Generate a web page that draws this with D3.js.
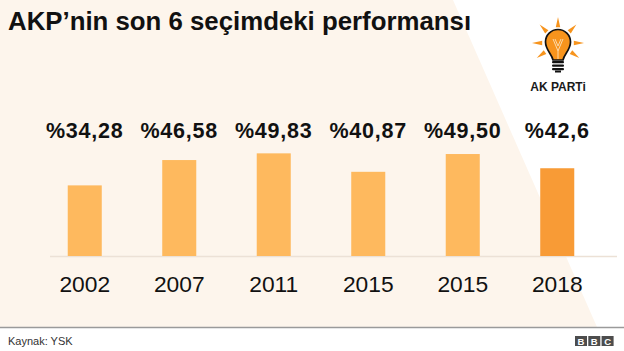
<!DOCTYPE html>
<html>
<head>
<meta charset="utf-8">
<script src="https://cdn.jsdelivr.net/npm/d3@7"></script>
<style>
  html, body { margin: 0; padding: 0; background: #fff; }
  svg { display: block; }
  text { font-family: "Liberation Sans", Arial, Helvetica, sans-serif; }
</style>
</head>
<body>
<svg id="chart" width="624" height="351"></svg>
<script>
// ---- data ----
const years = ["2002", "2007", "2011", "2015", "2015", "2018"];
const values = [34.28, 46.58, 49.83, 40.87, 49.50, 42.6];
const valueLabels = ["%34,28", "%46,58", "%49,83", "%40,87", "%49,50", "%42,6"];
const highlight = [false, false, false, false, false, true];
const title = "AKP\u2019nin son 6 seçimdeki performansı";
const source = "Kaynak: YSK";

const W = 624, H = 351;
const svg = d3.select("#chart");

// background: cream with diagonal white area on right
svg.append("rect").attr("x", 0).attr("y", 0).attr("width", W).attr("height", H).attr("fill", "#fff");
svg.append("path")
  .attr("d", "M0,0 L453,0 L597,327 L0,327 Z")
  .attr("fill", "#FDF5EC");

// footer separator
svg.append("line").attr("x1", 0).attr("x2", W).attr("y1", 327.5).attr("y2", 327.5)
  .attr("stroke", "#9a9a9a").attr("stroke-width", 1.5);

// title
svg.append("text").attr("x", 8).attr("y", 29.5)
  .attr("font-size", 25.8).attr("font-weight", "bold").attr("fill", "#111")
  .text(title);

// scales
const idx = d3.range(values.length);
const x = d3.scaleBand().domain(idx).range([37.5, 604.5]).paddingInner(0.64).paddingOuter(0.32);
const y = d3.scaleLinear().domain([0, 50]).range([256, 153]);

// baseline
svg.append("line").attr("x1", 50).attr("x2", 617).attr("y1", y(0) + 0.5).attr("y2", y(0) + 0.5)
  .attr("stroke", "#ECE1D6").attr("stroke-width", 1.5);

// bars
svg.append("g").selectAll("rect").data(idx).join("rect")
  .attr("x", i => x(i))
  .attr("width", x.bandwidth())
  .attr("y", i => y(values[i]))
  .attr("height", i => y(0) - y(values[i]))
  .attr("fill", i => highlight[i] ? "#F89B36" : "#FEB95E");

// value labels
svg.append("g").selectAll("text").data(idx).join("text")
  .attr("x", i => x(i) + x.bandwidth() / 2)
  .attr("y", 137.5)
  .attr("text-anchor", "middle")
  .attr("font-size", 21.5).attr("font-weight", "bold").attr("letter-spacing", 0.8)
  .attr("fill", "#111")
  .text(i => valueLabels[i]);

// x axis (year labels)
const xAxis = svg.append("g").attr("transform", `translate(0,${y(0)})`)
  .call(d3.axisBottom(x).tickFormat(i => years[i]).tickSize(0).tickPadding(0));
xAxis.select(".domain").remove();
xAxis.selectAll("text")
  .attr("dy", null).attr("y", 36)
  .attr("font-size", 22.8).attr("fill", "#111")
  .style("font-family", "'Liberation Sans', Arial, Helvetica, sans-serif");

// source
svg.append("text").attr("x", 8).attr("y", 345)
  .attr("font-size", 11).attr("fill", "#333").text(source);

// BBC logo
const bbc = svg.append("g").attr("transform", "translate(575,336)");
["B", "B", "C"].forEach((ch, k) => {
  bbc.append("rect").attr("x", k * 13.3).attr("y", 0).attr("width", 12).attr("height", 10)
    .attr("fill", "#4d4d4d");
  bbc.append("text").attr("x", k * 13.3 + 6).attr("y", 8.6).attr("text-anchor", "middle")
    .attr("font-size", 9.5).attr("font-weight", "bold").attr("fill", "#fff").text(ch);
});

// AK Parti logo
const logo = svg.append("g").attr("transform", "translate(558,43)");
const rayAngles = [-90, -135, -45, 180, 0, 145, 35];
rayAngles.forEach(a => {
  const r = a * Math.PI / 180;
  const r1 = 16, r2 = 26, hw = 0.14;
  const p = [
    [Math.cos(r - hw) * r1, Math.sin(r - hw) * r1],
    [Math.cos(r) * r2, Math.sin(r) * r2],
    [Math.cos(r + hw) * r1, Math.sin(r + hw) * r1]
  ];
  logo.append("path").attr("d", "M" + p.map(q => q.join(",")).join("L") + "Z").attr("fill", "#F7941D");
});
// bulb
logo.append("path")
  .attr("d", "M-5,17 C-6,11 -12.5,7 -12.5,-1 A12.5,12.5 0 1 1 12.5,-1 C12.5,7 6,11 5,17 Z")
  .attr("fill", "#F7941D").attr("stroke", "#111").attr("stroke-width", 1.7);
// filament
logo.append("path").attr("d", "M-5,-4 L0,8 L5,-4 M-3,-4 L0,3 L3,-4 M0,8 L0,16")
  .attr("fill", "none").attr("stroke", "#FCD9A8").attr("stroke-width", 1);
// base
[18, 21.5, 25].forEach(yy => {
  logo.append("rect").attr("x", -6).attr("y", yy).attr("width", 12).attr("height", 2.2)
    .attr("rx", 1).attr("fill", "#111");
});
logo.append("rect").attr("x", -3).attr("y", 27.5).attr("width", 6).attr("height", 2).attr("fill", "#111");
logo.append("text").attr("x", 0).attr("y", 47.5).attr("text-anchor", "middle")
  .attr("font-size", 12).attr("font-weight", "bold").attr("fill", "#1a1a1a").text("AK PARTi");
</script>
</body>
</html>
